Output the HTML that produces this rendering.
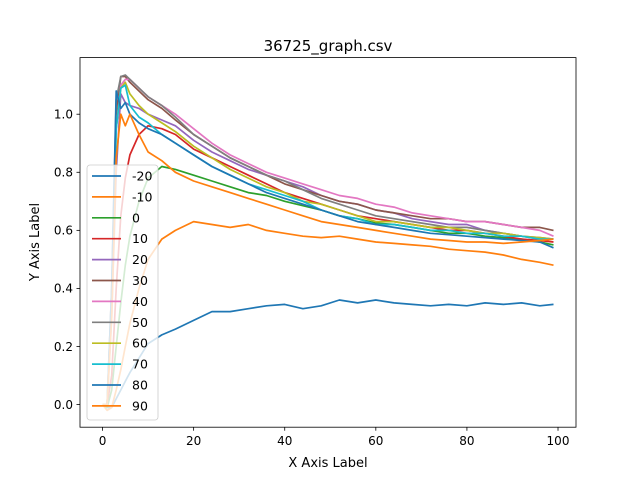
<!DOCTYPE html>
<html><head><meta charset="utf-8"><style>
body{margin:0;background:#fff;}
svg{display:block;font-family:"DejaVu Sans","Liberation Sans",sans-serif;}
</style></head><body>
<svg id="chart" width="640" height="480" viewBox="0 0 640 480" xmlns="http://www.w3.org/2000/svg">
<rect x="0" y="0" width="640" height="480" fill="#fff"/>
<text x="328" y="51" text-anchor="middle" font-size="15">36725_graph.csv</text>
<text x="328" y="467" text-anchor="middle" font-size="13">X Axis Label</text>
<text x="39" y="242" text-anchor="middle" font-size="13" transform="rotate(-90 39 242)">Y Axis Label</text>
<g id="series"></g>
<g id="axes"></g>
<g id="legend"></g>
</svg>
<script>
const xs=[0,1,2,3,4,5,6,8,10,13,16,20,24,28,32,36,40,44,48,52,56,60,64,68,72,76,80,84,88,92,96,99];
const seriesNames=["-20","-10","0","10","20","30","40","50","60","70","80","90"];
const colors=["#1f77b4","#ff7f0e","#2ca02c","#d62728","#9467bd","#8c564b","#e377c2","#7f7f7f","#bcbd22","#17becf","#1f77b4","#ff7f0e"];
const sM20=[0,-0.01,-0.01,0.02,0.05,0.08,0.11,0.16,0.21,0.24,0.26,0.29,0.32,0.32,0.33,0.34,0.345,0.33,0.34,0.36,0.35,0.36,0.35,0.345,0.34,0.345,0.34,0.35,0.345,0.35,0.34,0.345];
const sM10=[0,-0.02,-0.01,0.05,0.12,0.20,0.28,0.40,0.50,0.57,0.60,0.63,0.62,0.61,0.62,0.60,0.59,0.58,0.575,0.58,0.57,0.56,0.555,0.55,0.545,0.535,0.53,0.525,0.515,0.50,0.49,0.48];
const s0=[0,-0.01,0.05,0.2,0.35,0.48,0.58,0.70,0.78,0.82,0.81,0.79,0.77,0.75,0.73,0.72,0.70,0.685,0.67,0.65,0.64,0.625,0.62,0.61,0.60,0.59,0.59,0.58,0.575,0.57,0.56,0.55];
const s10=[0,0,0.1,0.4,0.65,0.78,0.86,0.93,0.96,0.95,0.93,0.88,0.85,0.82,0.79,0.76,0.73,0.71,0.69,0.67,0.65,0.64,0.63,0.62,0.61,0.60,0.60,0.59,0.58,0.57,0.565,0.56];
const s20=[0,0,0.3,0.8,1.07,1.04,1.03,1.02,1.0,0.98,0.96,0.91,0.87,0.84,0.81,0.79,0.77,0.75,0.72,0.70,0.69,0.67,0.66,0.64,0.63,0.62,0.62,0.60,0.59,0.58,0.575,0.57];
const s30=[0,0,0.4,1.0,1.13,1.13,1.11,1.08,1.05,1.02,0.98,0.93,0.89,0.85,0.82,0.79,0.76,0.74,0.72,0.70,0.69,0.67,0.66,0.65,0.64,0.64,0.63,0.63,0.62,0.61,0.61,0.60];
const s40=[0,0,0.35,0.95,1.10,1.12,1.12,1.09,1.06,1.03,1.0,0.95,0.90,0.86,0.83,0.80,0.78,0.76,0.74,0.72,0.71,0.69,0.68,0.66,0.65,0.64,0.63,0.63,0.62,0.61,0.60,0.58];
const s50=[0,0,0.4,1.05,1.13,1.135,1.12,1.09,1.06,1.03,0.99,0.93,0.89,0.85,0.82,0.79,0.77,0.74,0.71,0.69,0.67,0.65,0.64,0.63,0.62,0.61,0.61,0.60,0.59,0.58,0.57,0.57];
const s60=[0,0,0.35,0.95,1.09,1.11,1.07,1.03,1.0,0.97,0.94,0.89,0.85,0.81,0.78,0.75,0.73,0.70,0.69,0.67,0.65,0.63,0.63,0.62,0.61,0.61,0.60,0.59,0.59,0.58,0.575,0.57];
const s70=[0,0,0.35,0.95,1.09,1.10,1.03,0.99,0.97,0.93,0.90,0.86,0.82,0.79,0.76,0.74,0.72,0.70,0.67,0.65,0.64,0.62,0.62,0.61,0.60,0.60,0.59,0.59,0.58,0.58,0.57,0.57];
const s80=[0,0,0.4,1.08,1.02,1.04,1.0,0.97,0.95,0.93,0.90,0.86,0.82,0.79,0.76,0.73,0.71,0.69,0.67,0.65,0.63,0.62,0.61,0.60,0.59,0.585,0.58,0.575,0.57,0.565,0.56,0.54];
const s90=[0,0,0.3,0.85,1.0,0.96,1.0,0.93,0.87,0.84,0.80,0.77,0.75,0.73,0.71,0.69,0.67,0.65,0.63,0.62,0.61,0.60,0.59,0.58,0.57,0.565,0.56,0.56,0.555,0.56,0.565,0.57];
const xTicks=[0,20,40,60,80,100];
const yTicks=[0.0,0.2,0.4,0.6,0.8,1.0];
const yTickLabels=["0.0","0.2","0.4","0.6","0.8","1.0"];

const all=[sM20,sM10,s0,s10,s20,s30,s40,s50,s60,s70,s80,s90];
const L=80,R=576,T=57.6,B=427.2;
const xMin=-4.95,xMax=103.95,yMin=-0.078,yMax=1.195;
function sx(v){return L+(v-xMin)/(xMax-xMin)*(R-L);}
function sy(v){return B-(v-yMin)/(yMax-yMin)*(B-T);}
const NS="http://www.w3.org/2000/svg";
function mk(tag,attrs,parent){const e=document.createElementNS(NS,tag);for(const k in attrs)e.setAttribute(k,attrs[k]);parent.appendChild(e);return e;}
const sg=document.getElementById('series');
all.forEach((arr,i)=>{
  const d=arr.map((v,j)=>(j?'L':'M')+sx(xs[j]).toFixed(1)+' '+sy(v).toFixed(1)).join(' ');
  const p=mk('path',{d:d,fill:'none',stroke:colors[i],'stroke-width':1.7,'stroke-linejoin':'round'},sg);
  
  
});
const ax=document.getElementById('axes');
const fr=mk('rect',{x:L,y:T,width:R-L,height:B-T,fill:'none',stroke:'#000','stroke-width':0.8},ax);


xTicks.forEach(t=>{
  const x=sx(t);
  mk('line',{x1:x,x2:x,y1:B,y2:B+3.5,stroke:'#000','stroke-width':0.8},ax);
  const tx=mk('text',{x:x,y:B+18,'text-anchor':'middle','font-size':12},ax);
  tx.textContent=t;
  
  
});
yTicks.forEach((t,i)=>{
  const y=sy(t);
  mk('line',{x1:L-3.5,x2:L,y1:y,y2:y,stroke:'#000','stroke-width':0.8},ax);
  const tx=mk('text',{x:L-7,y:y+4.3,'text-anchor':'end','font-size':12},ax);
  tx.textContent=yTickLabels[i];
  
  
});
const lg=document.getElementById('legend');


mk('rect',{x:87,y:165,width:71,height:255,rx:3,fill:'#fff','fill-opacity':0.8,stroke:'#ccc','stroke-width':0.8},lg);
seriesNames.forEach((n,i)=>{
  const y=176+i*20.9;
  const g=mk('g',{},lg);
  
  
  mk('line',{x1:92,x2:121,y1:y,y2:y,stroke:colors[i],'stroke-width':1.7},g);
  const t=mk('text',{x:132,y:y+4.5,'font-size':12.5},g);
  t.textContent=n;
});
</script>
</body></html>
